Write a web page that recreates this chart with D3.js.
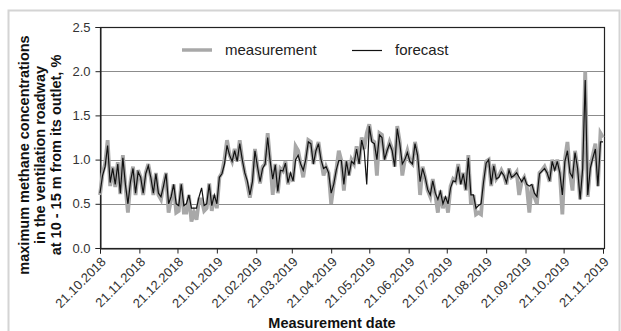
<!DOCTYPE html>
<html><head><meta charset="utf-8">
<script src="https://cdn.jsdelivr.net/npm/d3@7"></script>
<style>body{margin:0;background:#fff}svg{display:block}</style>
</head><body><svg id="c" width="621" height="331"></svg>
<script>
const startDate = "21.10.2018";
const stepDays = 2;
const measurement = [
0.6,0.84,0.95,1.22,0.7,0.92,0.69,0.97,0.61,1.05,0.7,0.4,0.75,0.92,0.6,0.88,0.8,0.6,0.85,0.95,
0.8,0.6,0.85,0.6,0.55,0.72,0.85,0.4,0.55,0.72,0.4,0.42,0.73,0.4,0.4,0.6,0.3,0.4,0.32,0.55,
0.55,0.42,0.45,0.73,0.42,0.6,0.45,0.8,0.85,1.0,1.22,1.05,0.98,1.12,0.98,1.22,1.0,0.85,0.72,0.57,
0.75,1.12,0.92,0.73,0.92,0.95,1.3,0.98,0.6,0.95,0.62,0.9,0.87,0.98,0.72,0.85,0.75,1.15,1.1,0.95,
0.8,1.0,1.22,1.2,0.95,1.1,1.2,1.0,0.82,0.92,0.85,0.5,0.72,0.88,1.1,0.99,0.65,0.99,0.82,1.0,
0.95,1.15,0.95,1.25,1.12,1.3,1.4,1.22,1.2,0.82,1.3,1.28,1.0,1.1,1.2,1.12,0.92,1.38,1.2,
0.82,1.0,1.1,0.98,0.95,1.2,1.05,0.6,0.92,0.8,0.65,0.58,0.78,0.6,0.4,0.65,0.45,0.58,0.4,0.7,
0.78,0.75,0.95,0.72,0.85,0.65,1.05,0.5,0.6,0.38,0.4,0.38,0.75,0.98,1.0,0.7,0.95,0.78,0.82,0.88,
0.82,0.72,0.9,0.8,0.82,0.86,0.6,0.75,0.8,0.7,0.4,0.72,0.58,0.5,0.85,0.88,0.92,0.85,0.75,1.0,
0.88,1.0,0.85,0.38,1.0,1.2,0.85,0.65,1.1,0.9,0.55,0.9,2.0,0.58,0.92,1.05,1.18,0.7,1.3,1.25
];
const forecast = [
0.62,0.82,0.92,1.16,0.74,0.9,0.72,0.95,0.62,1.02,0.72,0.5,0.75,0.9,0.62,0.86,0.8,0.62,0.84,0.93,
0.8,0.62,0.84,0.62,0.58,0.7,0.84,0.5,0.58,0.72,0.5,0.48,0.72,0.48,0.5,0.6,0.45,0.45,0.45,0.58,
0.68,0.48,0.5,0.72,0.48,0.6,0.5,0.8,0.84,0.95,1.16,1.05,0.98,1.1,0.98,1.18,1.0,0.85,0.76,0.6,
0.75,1.1,0.92,0.75,0.9,0.95,1.25,0.98,0.78,0.94,0.64,0.88,0.87,0.96,0.74,0.85,0.76,1.0,1.05,0.95,
0.88,1.0,1.2,1.18,0.95,1.1,1.18,1.0,0.9,0.92,0.85,0.62,0.72,0.88,0.99,0.99,0.72,0.98,0.82,0.98,
0.95,1.12,0.95,1.22,1.1,0.72,1.38,1.2,1.18,1.0,1.28,1.25,1.0,1.1,1.18,1.1,0.92,1.35,1.18,
0.95,1.0,1.08,0.98,0.95,1.18,1.05,0.75,0.9,0.8,0.66,0.6,0.76,0.62,0.55,0.64,0.5,0.58,0.5,0.68,
0.76,0.75,0.92,0.72,0.84,0.66,1.02,0.6,0.6,0.45,0.48,0.5,0.75,0.96,1.0,0.72,0.93,0.78,0.8,0.86,
0.82,0.74,0.88,0.8,0.82,0.85,0.8,0.75,0.8,0.72,0.7,0.72,0.62,0.58,0.84,0.87,0.9,0.85,0.76,0.98,
0.88,0.98,0.85,0.6,0.98,1.1,0.85,0.8,1.08,0.9,0.55,0.9,1.9,0.6,0.9,1.02,1.12,0.7,1.2,1.2
];
const xTickLabels = ["21.10.2018","21.11.2018","21.12.2018","21.01.2019","21.02.2019","21.03.2019","21.04.2019","21.05.2019","21.06.2019","21.07.2019","21.08.2019","21.09.2019","21.10.2019","21.11.2019"];
const yTickValues = [0,0.5,1.0,1.5,2.0,2.5];
const seriesNames = ["measurement","forecast"];
const yTitleLines = ["maximum methane concentrations","in the ventilation roadway","at 10 - 15 m from its outlet, %"];
const xTitle = "Measurement date";

const parse = d3.timeParse("%d.%m.%Y");
const t0 = parse(startDate);
const dates = measurement.map((_, i) => d3.timeDay.offset(t0, i * stepDays));
const tickDates = xTickLabels.map(parse);

const svg = d3.select("#c");
const L = 100, R = 605, T = 27, B = 248;
const x = d3.scaleTime().domain([tickDates[0], tickDates[tickDates.length-1]]).range([L, 603]);
const y = d3.scaleLinear().domain([0, 2.5]).range([B, T]);
const FONT = "Liberation Sans, Arial, sans-serif";

// outer frame
svg.append("rect").attr("x", 8.5).attr("y", 10.5).attr("width", 611).attr("height", 325)
  .attr("fill", "#fff").attr("stroke", "#d4d4d4").attr("stroke-width", 2);

// gridlines
svg.append("g").selectAll("line").data(yTickValues.slice(1, -1)).join("line")
  .attr("x1", L).attr("x2", R).attr("y1", d => Math.round(y(d)) + 0.5).attr("y2", d => Math.round(y(d)) + 0.5)
  .attr("stroke", "#8c8c8c").attr("stroke-width", 1);

// plot border
svg.append("rect").attr("x", L + 0.5).attr("y", T + 0.5).attr("width", R - L - 1).attr("height", B - T)
  .attr("fill", "none").attr("stroke", "#222").attr("stroke-width", 1.2);

// y axis
const yAxis = d3.axisLeft(y).tickValues(yTickValues).tickFormat(d3.format(".1f")).tickSize(5).tickPadding(5);
const gy = svg.append("g").attr("transform", `translate(${L + 0.5},0)`).call(yAxis);
gy.select(".domain").attr("stroke", "#222");
gy.selectAll(".tick line").attr("stroke", "#222");
gy.selectAll("text").attr("font-family", FONT).attr("font-size", 13).attr("fill", "#333");

// x axis
const xAxis = d3.axisBottom(x).tickValues(tickDates).tickFormat((d, i) => xTickLabels[i]).tickSize(5);
const gx = svg.append("g").attr("transform", `translate(0,${B + 0.5})`).call(xAxis);
gx.select(".domain").attr("stroke", "#222");
gx.selectAll(".tick line").attr("stroke", "#222");
gx.selectAll("text").attr("font-family", FONT).attr("font-size", 13).attr("fill", "#333")
  .attr("text-anchor", "end").attr("dy", "0.35em")
  .attr("transform", "translate(3,11) rotate(-45)").attr("y", 0).attr("x", 0);

// lines
const line = d3.line().x((d, i) => x(dates[i])).y(d => y(d));
svg.append("path").datum(measurement).attr("d", line).attr("fill", "none")
  .attr("stroke", "#a8a8a8").attr("stroke-width", 3.8).attr("stroke-linejoin", "miter");
svg.append("path").datum(forecast).attr("d", line).attr("fill", "none")
  .attr("stroke", "#111").attr("stroke-width", 1.2).attr("stroke-linejoin", "miter");

// legend
const lg = svg.append("g").attr("font-family", FONT).attr("font-size", 15).attr("fill", "#222");
lg.append("line").attr("x1", 182).attr("x2", 212).attr("y1", 50).attr("y2", 50).attr("stroke", "#a8a8a8").attr("stroke-width", 3.5);
lg.append("text").attr("x", 225).attr("y", 55).text(seriesNames[0]);
lg.append("line").attr("x1", 352).attr("x2", 382).attr("y1", 50.5).attr("y2", 50.5).attr("stroke", "#111").attr("stroke-width", 1.2);
lg.append("text").attr("x", 395).attr("y", 55).text(seriesNames[1]);

// titles
svg.append("text").attr("x", 332).attr("y", 328).attr("text-anchor", "middle")
  .attr("font-family", FONT).attr("font-size", 14.5).attr("font-weight", "bold").attr("fill", "#111")
  .text(xTitle);
const yt = svg.append("text").attr("transform", "translate(0,155) rotate(-90)").attr("text-anchor", "middle")
  .attr("font-family", FONT).attr("font-size", 14.5).attr("font-weight", "bold").attr("fill", "#111");
yTitleLines.forEach((s, i) => yt.append("tspan").attr("x", 0).attr("y", 29 + i * 16).text(s));
</script>
</body></html>
